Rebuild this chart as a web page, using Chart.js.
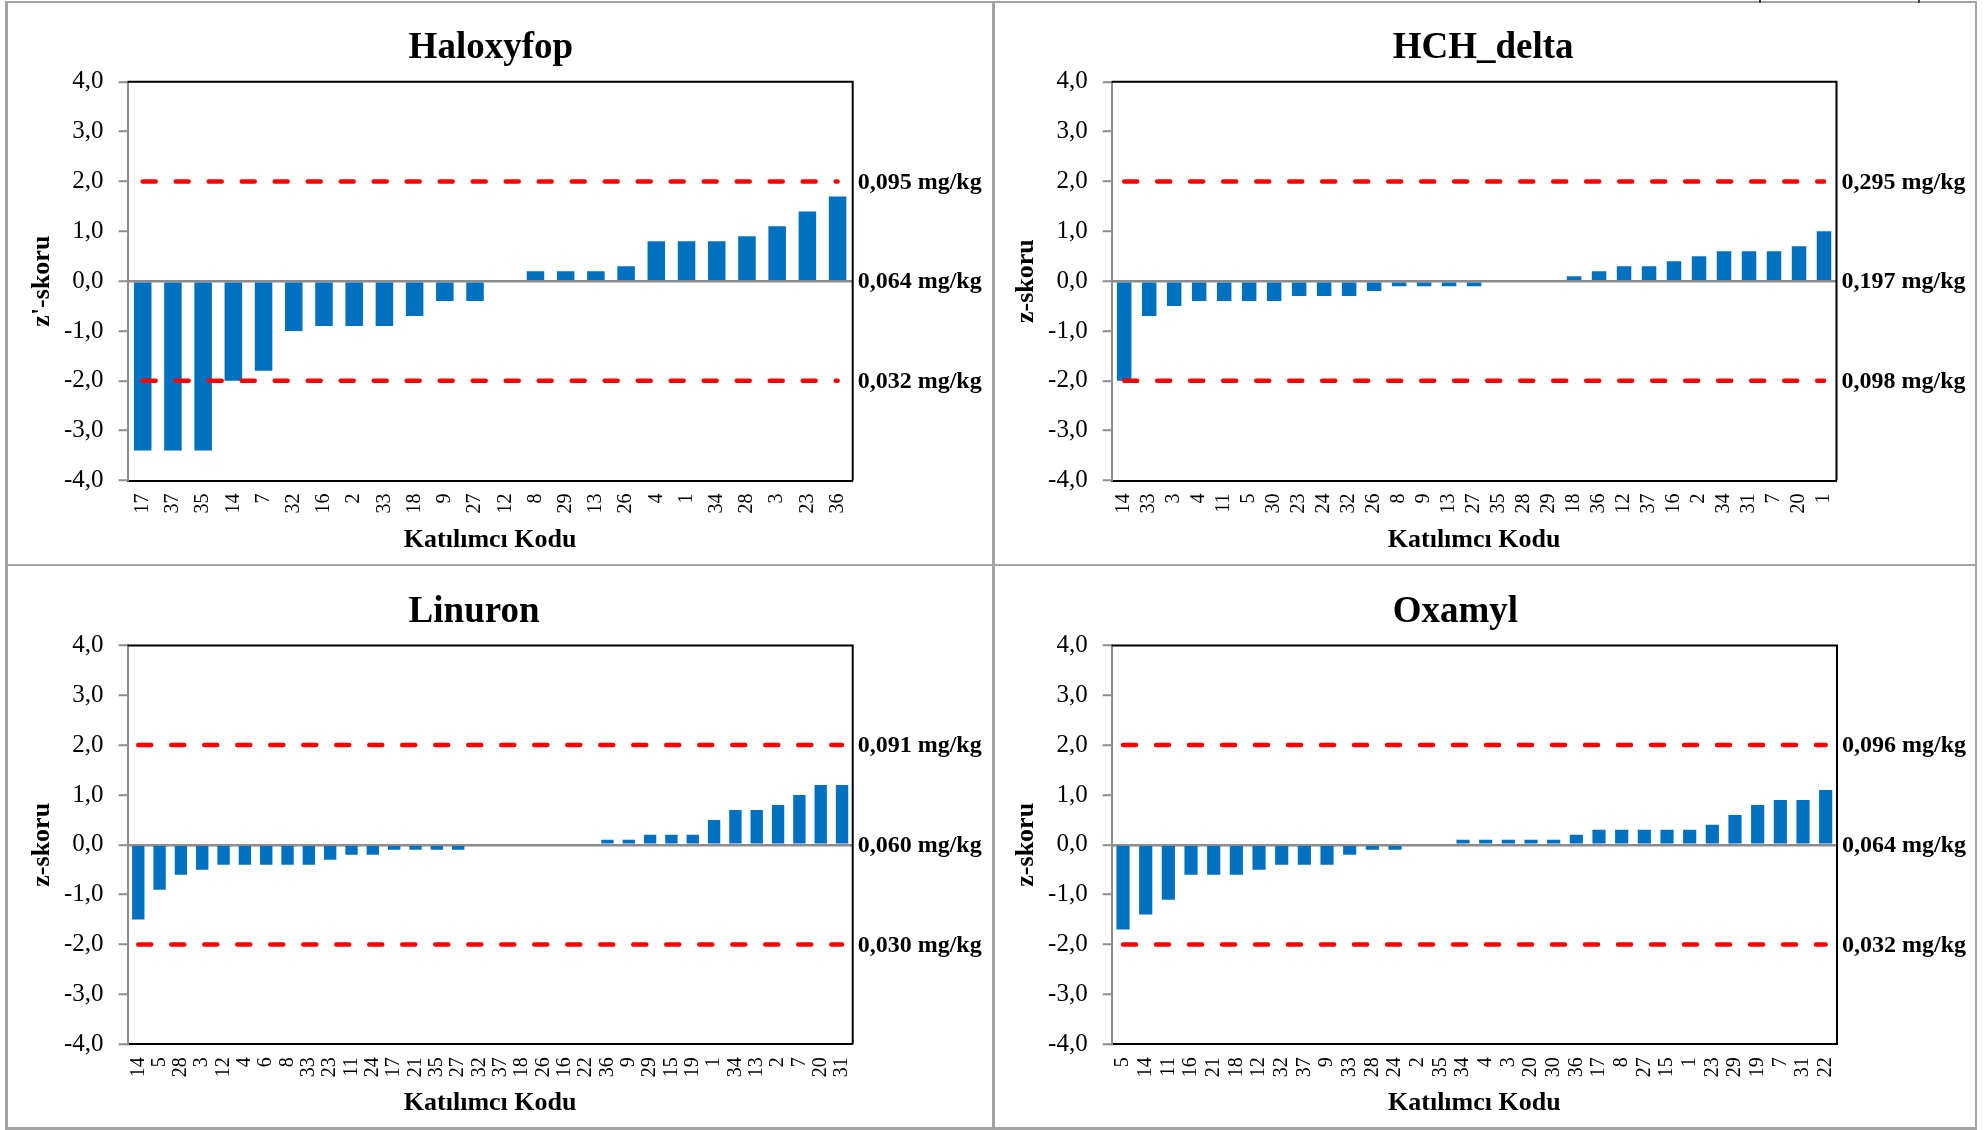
<!DOCTYPE html>
<html>
<head>
<meta charset="utf-8">
<script src="https://cdn.jsdelivr.net/npm/chart.js@4.4.1/dist/chart.umd.min.js"></script>
<style>
  html, body { margin: 0; padding: 0; background: #fff; }
  body { width: 1984px; height: 1130px; position: relative; overflow: hidden; }
  canvas { position: absolute; }
  .rule { position: absolute; background: #a3a3a3; }
  .mark { position: absolute; top: 0; width: 2px; height: 3px; background: #404040; }
</style>
</head>
<body>
<canvas id="haloxyfop" width="993" height="564" style="left:0px;top:0px"></canvas>
<canvas id="hch" width="984" height="564" style="left:993px;top:0px"></canvas>
<canvas id="linuron" width="993" height="566" style="left:0px;top:564px"></canvas>
<canvas id="oxamyl" width="984" height="566" style="left:993px;top:564px"></canvas>

<!-- table frame around the four charts -->
<div class="rule" style="left:5px;top:0.5px;width:1972px;height:2.5px"></div>
<div class="rule" style="left:5px;top:563.5px;width:1972px;height:2.5px"></div>
<div class="rule" style="left:5px;top:1127px;width:1972px;height:2.5px"></div>
<div class="rule" style="left:5px;top:0.5px;width:3px;height:1129px"></div>
<div class="rule" style="left:991.5px;top:0.5px;width:3px;height:1129px"></div>
<div class="rule" style="left:1974.5px;top:0.5px;width:2.5px;height:1129px"></div>
<div class="mark" style="left:1759px"></div>
<div class="mark" style="left:1918px"></div>

<script>
const serif = "'Liberation Serif', 'Times New Roman', serif";

const yTickLabels = ['-4,0', '-3,0', '-2,0', '-1,0', '0,0', '1,0', '2,0', '3,0', '4,0'];
const limitLevels = [2, 0, -2];

const haloxyfopCodes = ['17', '37', '35', '14', '7', '32', '16', '2', '33', '18', '9', '27', '12', '8', '29', '13', '26', '4', '1', '34', '28', '3', '23', '36'];
const haloxyfopScores = [-3.4, -3.4, -3.4, -2.0, -1.8, -1.0, -0.9, -0.9, -0.9, -0.7, -0.4, -0.4, 0, 0.2, 0.2, 0.2, 0.3, 0.8, 0.8, 0.8, 0.9, 1.1, 1.4, 1.7];
const haloxyfopLimits = ['0,095 mg/kg', '0,064 mg/kg', '0,032 mg/kg'];

const hchCodes = ['14', '33', '3', '4', '11', '5', '30', '23', '24', '32', '26', '8', '9', '13', '27', '35', '28', '29', '18', '36', '12', '37', '16', '2', '34', '31', '7', '20', '1'];
const hchScores = [-2.0, -0.7, -0.5, -0.4, -0.4, -0.4, -0.4, -0.3, -0.3, -0.3, -0.2, -0.1, -0.1, -0.1, -0.1, 0, 0, 0, 0.1, 0.2, 0.3, 0.3, 0.4, 0.5, 0.6, 0.6, 0.6, 0.7, 1.0];
const hchLimits = ['0,295 mg/kg', '0,197 mg/kg', '0,098 mg/kg'];

const linuronCodes = ['14', '5', '28', '3', '12', '4', '6', '8', '33', '23', '11', '24', '17', '21', '35', '27', '32', '37', '18', '26', '16', '22', '36', '9', '29', '15', '19', '1', '34', '13', '2', '7', '20', '31'];
const linuronScores = [-1.5, -0.9, -0.6, -0.5, -0.4, -0.4, -0.4, -0.4, -0.4, -0.3, -0.2, -0.2, -0.1, -0.1, -0.1, -0.1, 0, 0, 0, 0, 0, 0, 0.1, 0.1, 0.2, 0.2, 0.2, 0.5, 0.7, 0.7, 0.8, 1.0, 1.2, 1.2];
const linuronLimits = ['0,091 mg/kg', '0,060 mg/kg', '0,030 mg/kg'];

const oxamylCodes = ['5', '14', '11', '16', '21', '18', '12', '32', '37', '9', '33', '28', '24', '2', '35', '34', '4', '3', '20', '30', '36', '17', '8', '27', '15', '1', '23', '29', '19', '7', '31', '22'];
const oxamylScores = [-1.7, -1.4, -1.1, -0.6, -0.6, -0.6, -0.5, -0.4, -0.4, -0.4, -0.2, -0.1, -0.1, 0, 0, 0.1, 0.1, 0.1, 0.1, 0.1, 0.2, 0.3, 0.3, 0.3, 0.3, 0.3, 0.4, 0.6, 0.8, 0.9, 0.9, 1.1];
const oxamylLimits = ['0,096 mg/kg', '0,064 mg/kg', '0,032 mg/kg'];

// title, mg/kg labels on the right, black top/right plot border
const chartText = {
  id: 'chartText',
  afterDraw(chart, args, opts) {
    const { ctx, chartArea: a } = chart;
    const y = chart.scales.y;
    ctx.save();
    ctx.strokeStyle = '#000';
    ctx.lineWidth = 2;
    ctx.beginPath();
    ctx.moveTo(a.left, a.top);
    ctx.lineTo(a.right, a.top);
    ctx.lineTo(a.right, a.bottom);
    ctx.stroke();

    ctx.fillStyle = '#000';
    ctx.textAlign = 'left';
    ctx.font = 'bold 37px ' + serif;
    ctx.textBaseline = 'alphabetic';
    ctx.fillText(opts.title, a.left + 281, a.top - 23.6);

    ctx.font = 'bold 24px ' + serif;
    ctx.textBaseline = 'middle';
    opts.limits.forEach((t, i) => {
      ctx.fillText(t, a.right + 5, y.getPixelForValue(limitLevels[i]) + 1);
    });
    ctx.restore();
  }
};

function limitLine(codes, level) {
  return {
    type: 'line',
    data: [{ x: codes[0], y: level }, { x: codes[codes.length - 1], y: level }],
    borderColor: '#ff0000',
    borderWidth: 4.5,
    borderDash: [13, 20],
    borderCapStyle: 'round',
    pointRadius: 0,
    order: 0
  };
}

function drawChart(id, name, yLabel, codes, scores, limits, box) {
  const yAxisWidth = box.left - box.cx;
  const xAxisHeight = box.cy + box.ch - box.bottom;
  const yTitlePad = (box.left - 85 - box.cx) - 15.6;
  const xTitlePad = (box.cy + box.ch) - (box.bottom + 59.5) - 15.6;

  new Chart(document.getElementById(id), {
    type: 'bar',
    data: {
      labels: codes,
      datasets: [
        limitLine(codes, limitLevels[0]),
        limitLine(codes, limitLevels[2]),
        {
          data: scores,
          backgroundColor: '#0070c0',
          borderWidth: 0,
          barPercentage: 0.58,
          categoryPercentage: 1,
          order: 1
        }
      ]
    },
    options: {
      responsive: false,
      animation: false,
      devicePixelRatio: 1,
      layout: {
        padding: { left: 0, top: box.top - box.cy, right: box.cx + box.cw - box.right, bottom: 0 }
      },
      plugins: {
        legend: { display: false },
        tooltip: { enabled: false },
        chartText: { title: name, limits: limits }
      },
      scales: {
        x: {
          grid: { display: false, drawTicks: false },
          border: { display: true, color: '#000', width: 2 },
          ticks: {
            autoSkip: false, minRotation: 90, maxRotation: 90, padding: 13,
            color: '#000', font: { family: serif, size: 20 }
          },
          title: {
            display: true, text: 'Katılımcı Kodu', color: '#000',
            font: { family: serif, size: 26, weight: 'bold' },
            padding: { top: 0, bottom: xTitlePad }
          },
          afterFit: s => { s.height = xAxisHeight; }
        },
        y: {
          min: -4,
          max: 4,
          ticks: {
            stepSize: 1, padding: 15, color: '#000',
            font: { family: serif, size: 25 },
            callback: (v, i) => yTickLabels[i]
          },
          grid: {
            drawOnChartArea: true,
            color: c => (c.tick && c.tick.value === 0) ? '#8c8c8c' : 'rgba(0,0,0,0)',
            lineWidth: 2.5,
            tickColor: '#8c8c8c',
            tickWidth: 2,
            tickLength: 9
          },
          border: { display: true, color: '#8c8c8c', width: 2 },
          title: {
            display: true, text: yLabel, color: '#000',
            font: { family: serif, size: 26, weight: 'bold' },
            padding: { top: yTitlePad, bottom: 0 }
          },
          afterFit: s => { s.width = yAxisWidth; }
        }
      }
    },
    plugins: [chartText]
  });
}

drawChart('haloxyfop', 'Haloxyfop', "z'-skoru", haloxyfopCodes, haloxyfopScores, haloxyfopLimits,
  { cx: 0, cy: 0, cw: 993, ch: 564, left: 127.6, right: 852.7, top: 81.8, bottom: 480.5 });
drawChart('hch', 'HCH_delta', 'z-skoru', hchCodes, hchScores, hchLimits,
  { cx: 993, cy: 0, cw: 984, ch: 564, left: 1111.7, right: 1836.5, top: 81.8, bottom: 480.5 });
drawChart('linuron', 'Linuron', 'z-skoru', linuronCodes, linuronScores, linuronLimits,
  { cx: 0, cy: 564, cw: 993, ch: 566, left: 127.6, right: 852.7, top: 645.4, bottom: 1044.2 });
drawChart('oxamyl', 'Oxamyl', 'z-skoru', oxamylCodes, oxamylScores, oxamylLimits,
  { cx: 993, cy: 564, cw: 984, ch: 566, left: 1111.7, right: 1837, top: 645.4, bottom: 1044.2 });
</script>
</body>
</html>
